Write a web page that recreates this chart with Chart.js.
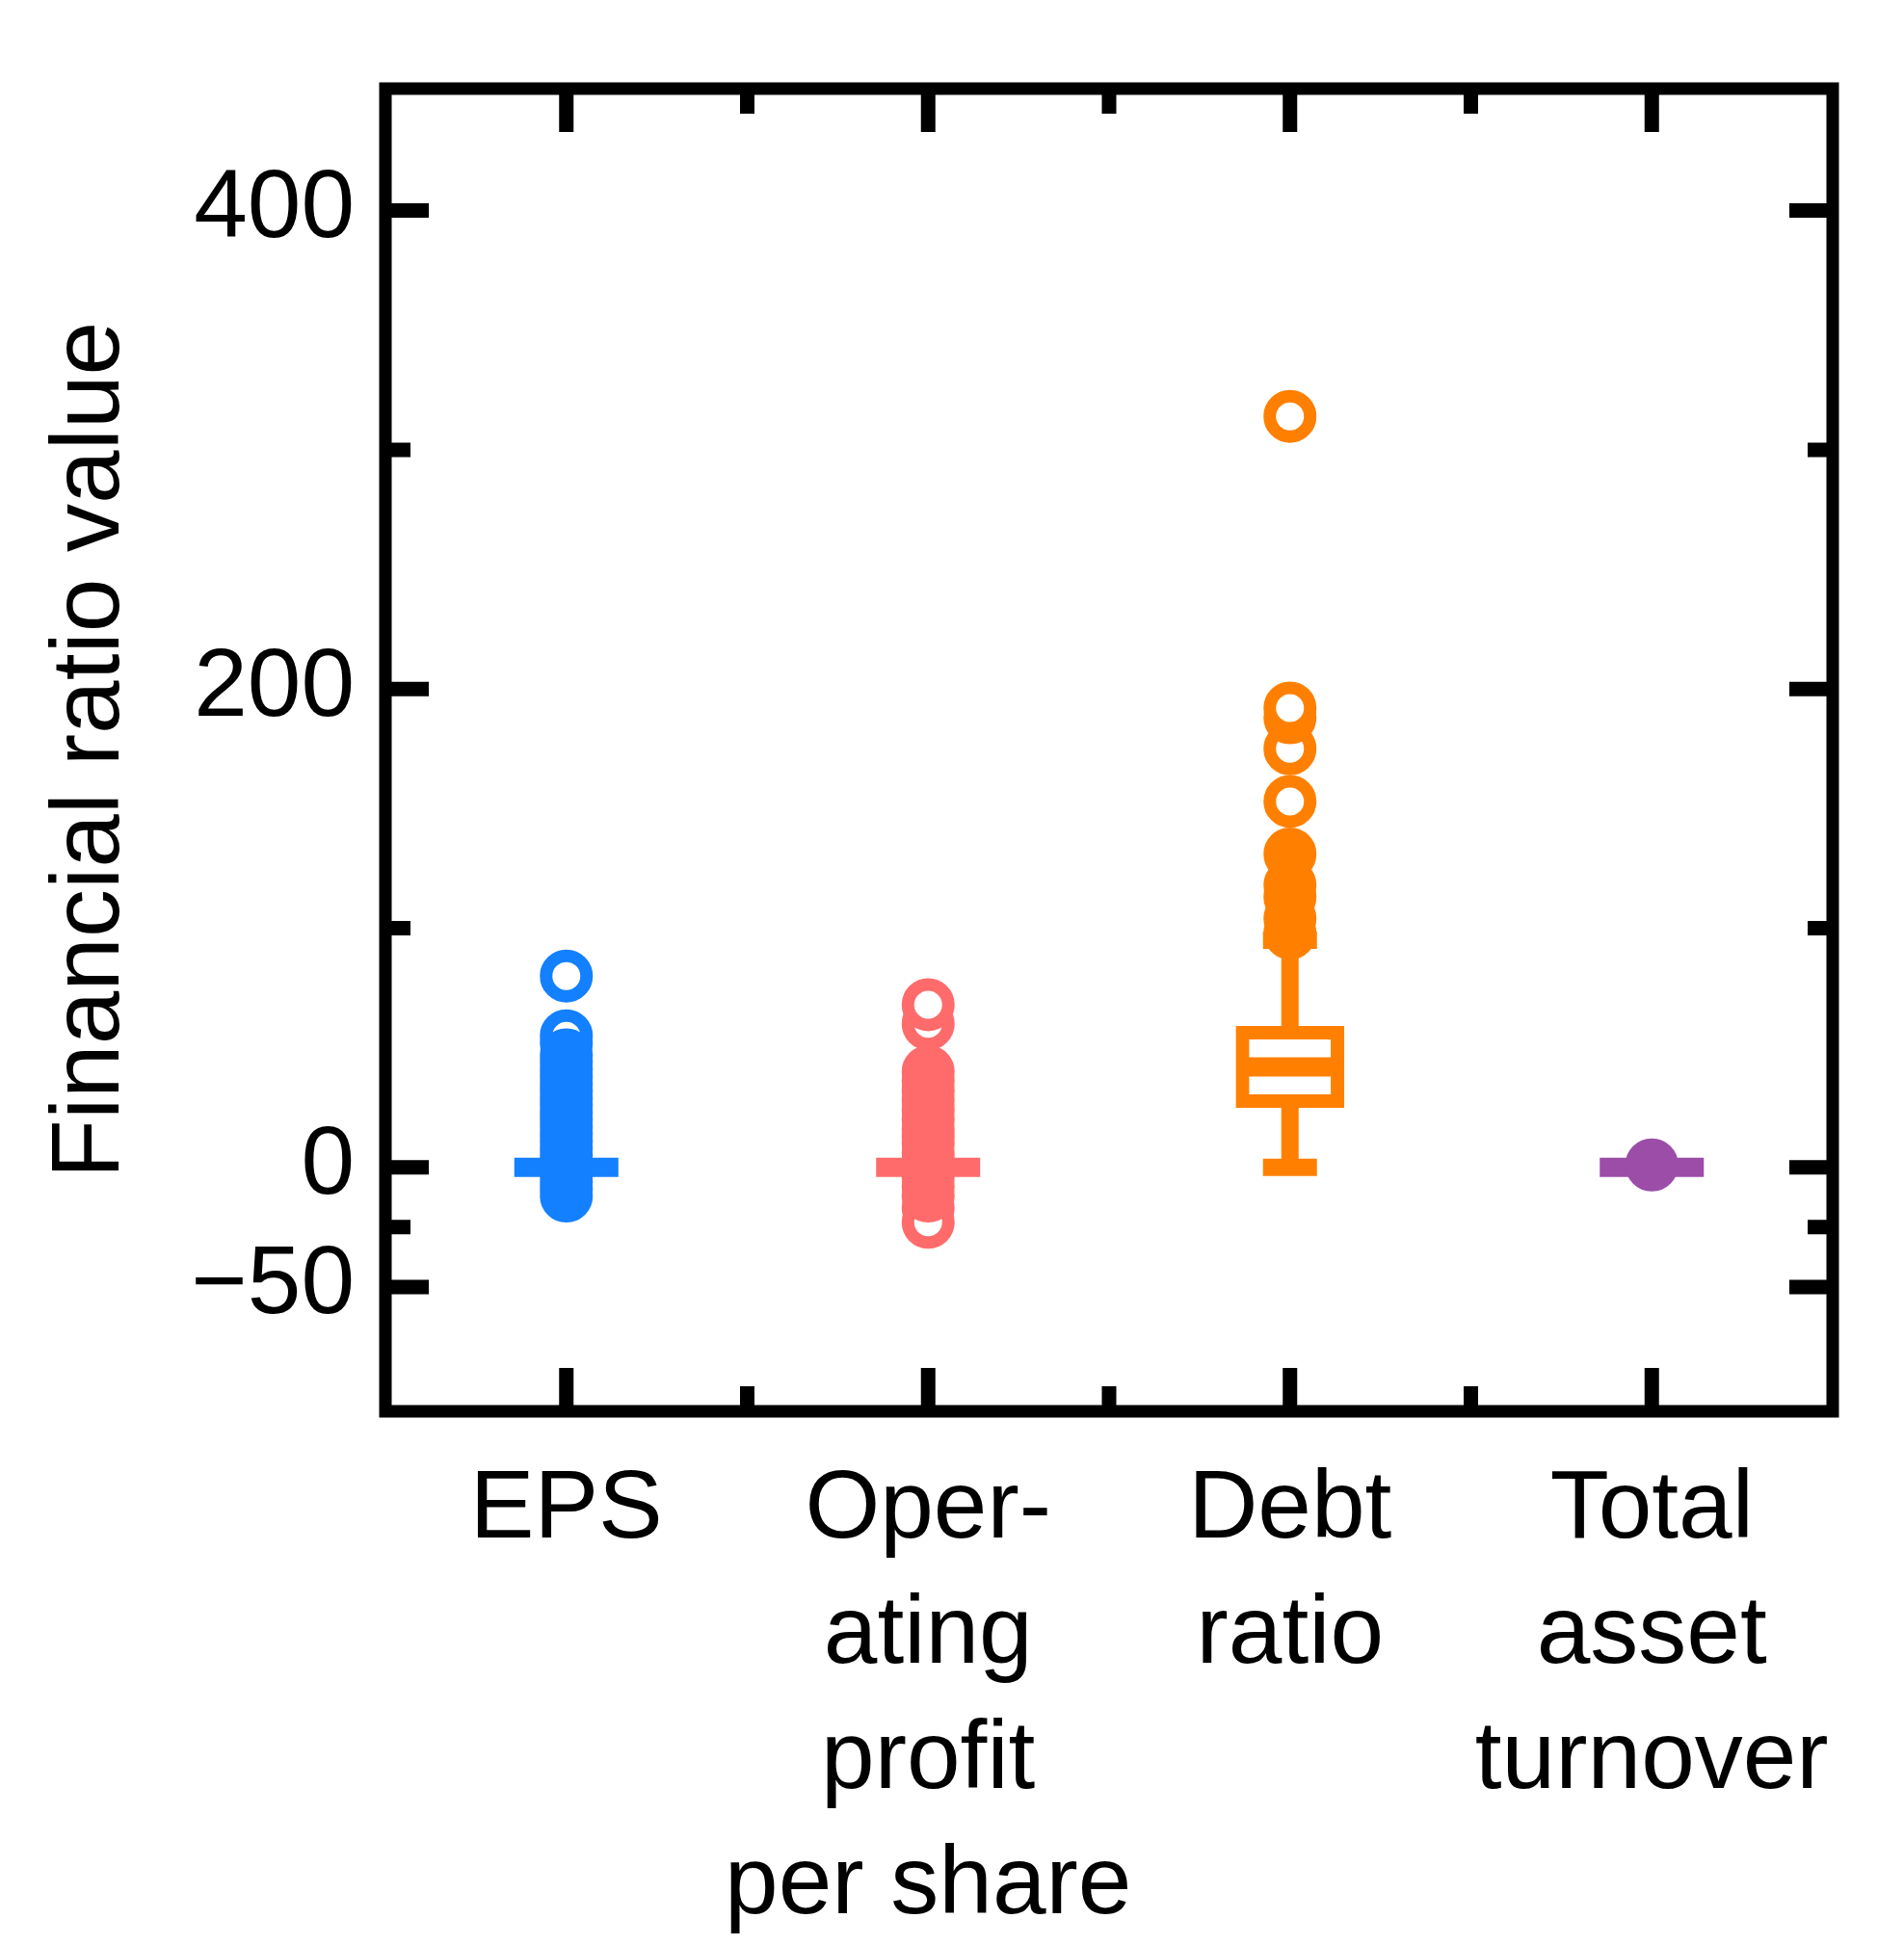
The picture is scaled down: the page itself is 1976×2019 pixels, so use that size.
<!DOCTYPE html>
<html>
<head>
<meta charset="utf-8">
<script src="https://cdn.jsdelivr.net/npm/chart.js@4.4.0/dist/chart.umd.min.js"></script>
<style>
  html, body { margin: 0; padding: 0; background: #fff; }
  canvas { display: block; }
</style>
</head>
<body>
<canvas id="chart" width="1976" height="2019"></canvas>
<script>
const categories = [['EPS'], ['Oper-', 'ating', 'profit', 'per share'], ['Debt', 'ratio'], ['Total', 'asset', 'turnover']];
const catKeys = ['EPS', 'OPPS', 'Debt', 'TAT'];
const colors = ['#1380ff', '#ff6b6b', '#ff8000', '#9b4da8'];

const yTicks = [-50, -25, 0, 100, 200, 300, 400];
const yLabeled = [-50, 0, 200, 400];

// medians (collapsed boxes for the first, second and fourth)
const medians = [0, 0, 42, 0];

// debt ratio box and whiskers
const debtBox = [25, 59];
const debtWhisker = [0, 95];

// outliers
const epsFilled = [-12, -9, -6, -3, 2, 5, 8, 11, 14, 17, 20, 23, 26, 29, 32, 35, 38, 41, 44, 47];
const epsOpen = [52, 55, 80];
const oppsFilled = [-12, -8, -4, 3, 6, 10, 13, 16, 20, 24, 28, 32, 36, 40];
const oppsOpen = [60, 68, -17, -23];
const debtFilled = [98, 104, 113, 118, 131];
const debtOpen = [153, 175, 188, 192, 314];
const tatFilled = [1];

const pts = (key, vals) => vals.map(v => ({ x: key, y: v }));

function pointSet(key, vals, color, open) {
  return {
    type: 'line', showLine: false, order: 1,
    data: pts(key, vals),
    pointRadius: 21, pointBorderWidth: 13,
    pointBorderColor: color,
    pointBackgroundColor: open ? '#ffffff' : color
  };
}

const tickPlugin = {
  id: 'frame',
  afterDraw(chart) {
    const { ctx, chartArea: a, scales } = chart;
    ctx.save();
    ctx.strokeStyle = '#000';
    ctx.lineWidth = 15;
    ctx.beginPath();
    yTicks.forEach(v => {
      const y = scales.y.getPixelForValue(v);
      const len = yLabeled.includes(v) ? 45 : 26;
      ctx.moveTo(a.left, y); ctx.lineTo(a.left + len, y);
      ctx.moveTo(a.right, y); ctx.lineTo(a.right - len, y);
    });
    catKeys.forEach((k, i) => {
      const x = scales.x.getPixelForValue(i);
      ctx.moveTo(x, a.top); ctx.lineTo(x, a.top + 45);
      ctx.moveTo(x, a.bottom); ctx.lineTo(x, a.bottom - 45);
      if (i > 0) {
        const xm = (x + scales.x.getPixelForValue(i - 1)) / 2;
        ctx.moveTo(xm, a.top); ctx.lineTo(xm, a.top + 26);
        ctx.moveTo(xm, a.bottom); ctx.lineTo(xm, a.bottom - 26);
      }
    });
    ctx.stroke();
    ctx.lineWidth = 13;
    ctx.strokeRect(a.left, a.top, a.right - a.left, a.bottom - a.top);
    ctx.restore();
  }
};

const font = { family: '"Liberation Sans", Arial, sans-serif', size: 100 };

new Chart(document.getElementById('chart'), {
  type: 'line',
  data: {
    labels: catKeys,
    datasets: [
      { type: 'line', order: 6, data: pts('Debt', debtWhisker), borderColor: colors[2], borderWidth: 18, pointRadius: 0, borderCapStyle: 'butt' },
      { type: 'bar', order: 5, data: [null, null, debtBox, null], backgroundColor: '#ffffff', borderColor: colors[2], borderWidth: 14, borderSkipped: false, barThickness: 112 },
      { type: 'line', showLine: false, order: 3, data: pts('Debt', debtWhisker), pointStyle: 'line', pointRadius: 28, pointBorderWidth: 18, pointBorderColor: colors[2] },
      { type: 'line', showLine: false, order: 3, data: catKeys.map((k, i) => ({ x: k, y: medians[i] })), pointStyle: 'line', pointRadius: 54, pointBorderWidth: 20, pointBorderColor: colors },
      pointSet('EPS', epsFilled, colors[0], false),
      pointSet('EPS', epsOpen, colors[0], true),
      pointSet('OPPS', oppsFilled, colors[1], false),
      pointSet('OPPS', oppsOpen, colors[1], true),
      pointSet('Debt', debtFilled, colors[2], false),
      pointSet('Debt', debtOpen, colors[2], true),
      pointSet('TAT', tatFilled, colors[3], false)
    ]
  },
  options: {
    responsive: false,
    devicePixelRatio: 1,
    animation: false,
    layout: { padding: { top: 8, right: 63, left: 0, bottom: 0 } },
    plugins: { legend: { display: false }, tooltip: { enabled: false } },
    scales: {
      x: {
        type: 'category',
        grid: { display: false, drawTicks: false },
        border: { display: false },
        afterFit: s => { s.height = 554; },
        ticks: {
          color: '#000', font: { ...font, lineHeight: 1.3 }, padding: 38, maxRotation: 0, autoSkip: false,
          callback: (v, i) => categories[i]
        }
      },
      y: {
        min: -102, max: 451,
        grid: { display: false, drawTicks: false },
        border: { display: false },
        afterFit: s => { s.width = 400; },
        afterBuildTicks: s => { s.ticks = yTicks.map(v => ({ value: v })); },
        ticks: {
          color: '#000', font, padding: 32,
          callback: v => yLabeled.includes(v) ? String(v).replace('-', '\u2212') : ''
        },
        title: { display: true, text: 'Financial ratio value', color: '#000', font, padding: { top: 35, bottom: 0 } }
      }
    }
  },
  plugins: [tickPlugin]
});
</script>
</body>
</html>
